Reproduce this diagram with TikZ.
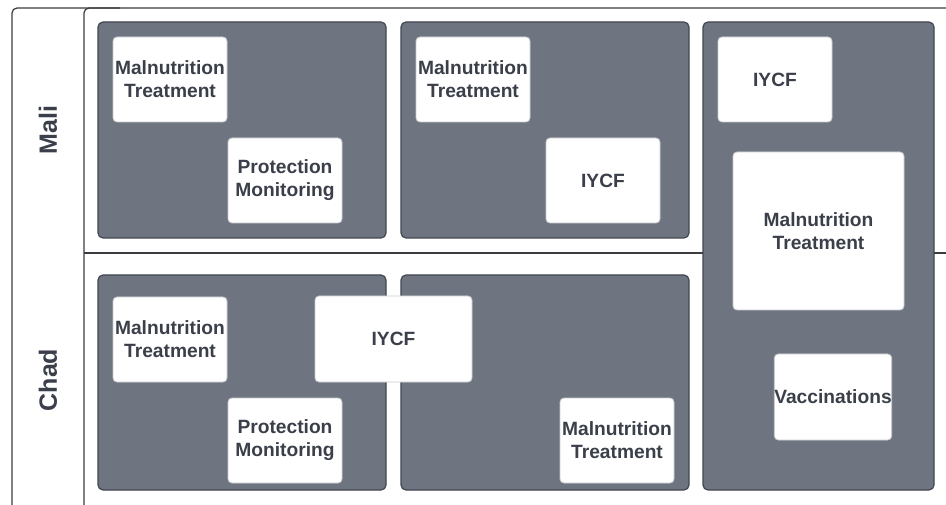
\documentclass[tikz,border=0pt]{standalone}
\usepackage{fontspec}
\setmainfont{Liberation Sans}
\definecolor{panelfill}{RGB}{111,117,128}
\definecolor{paneldraw}{RGB}{66,71,80}
\definecolor{boxdraw}{RGB}{200,202,206}
\definecolor{txt}{RGB}{58,63,74}
\definecolor{frame}{RGB}{60,60,64}
\tikzset{
  panel/.style={draw=paneldraw, line width=1.2pt, fill=panelfill, rounded corners=5pt, inner sep=0pt},
  wbox/.style={draw=boxdraw, line width=0.8pt, fill=white, rounded corners=4pt, inner sep=0pt,
    align=center, text=txt, font=\fontsize{19.2}{23}\selectfont\bfseries},
  lane/.style={draw=frame, line width=1.2pt},
  lanelabel/.style={text=txt, font=\fontsize{25}{28}\selectfont\bfseries, rotate=90, inner sep=0pt}
}
\begin{document}
\begin{tikzpicture}[x=1pt,y=-1pt]
\useasboundingbox[fill=white] (0,0) rectangle (946,505);
% lane frame
\draw[lane, rounded corners=5pt] (12,505) -- (12,8) -- (946,8);
\draw[lane, rounded corners=5pt] (84,505) -- (84,8) -- (120,8);
\draw[lane] (84,253) -- (946,253);
\node[lanelabel] (mali) at (48,130) {Mali};
\node[lanelabel] (chad) at (48,380) {Chad};
% panels
\node[panel, minimum width=288pt, minimum height=216pt] (pA) at (242,130) {};
\node[panel, minimum width=288pt, minimum height=216pt] (pB) at (545,130) {};
\node[panel, minimum width=231pt, minimum height=468pt] (pC) at (818.5,256) {};
\node[panel, minimum width=288pt, minimum height=215pt] (pD) at (242,382.5) {};
\node[panel, minimum width=288pt, minimum height=215pt] (pE) at (545,382.5) {};
% boxes
\node[wbox, minimum width=114pt, minimum height=85pt] (a1) at (170,79.5) {Malnutrition\\Treatment};
\node[wbox, minimum width=114pt, minimum height=85pt] (a2) at (285,180.5) {Protection\\Monitoring};
\node[wbox, minimum width=114pt, minimum height=85pt] (b1) at (473,79.5) {Malnutrition\\Treatment};
\node[wbox, minimum width=114pt, minimum height=85pt] (b2) at (603,180.5) {IYCF};
\node[wbox, minimum width=114pt, minimum height=85pt] (c1) at (775,79.5) {IYCF};
\node[wbox, minimum width=171pt, minimum height=158pt] (c2) at (818.5,231) {Malnutrition\\Treatment};
\node[wbox, minimum width=114pt, minimum height=86pt] (c3) at (833,397) {Vaccinations};
\node[wbox, minimum width=114pt, minimum height=85pt] (d1) at (170,339.5) {Malnutrition\\Treatment};
\node[wbox, minimum width=114pt, minimum height=85pt] (d2) at (285,440.5) {Protection\\Monitoring};
\node[wbox, minimum width=157pt, minimum height=86pt] (de) at (393.5,339) {IYCF};
\node[wbox, minimum width=114pt, minimum height=85pt] (e1) at (617,440.5) {Malnutrition\\Treatment};
\end{tikzpicture}
\end{document}
